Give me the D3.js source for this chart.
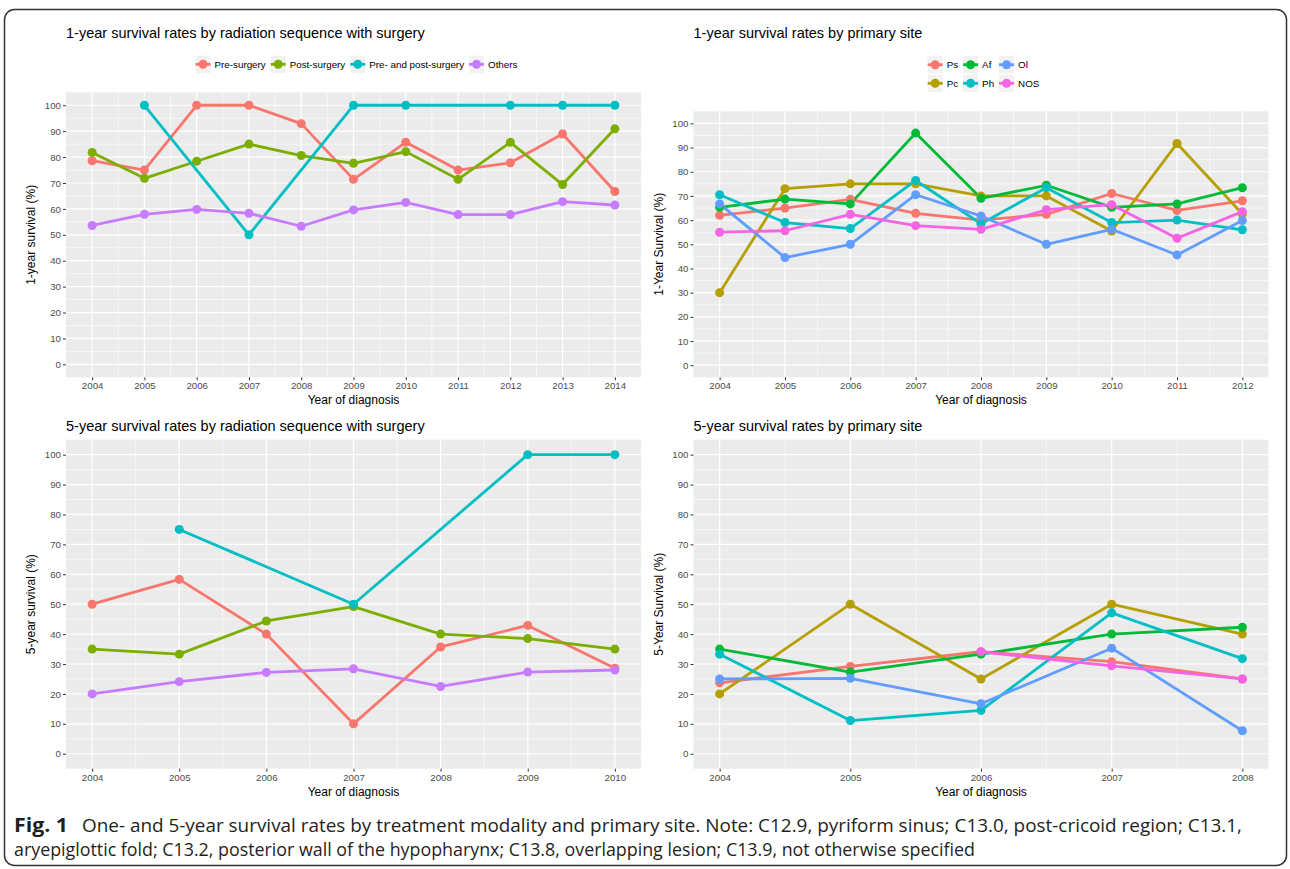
<!DOCTYPE html>
<html>
<head>
<meta charset="utf-8">
<script src="https://cdn.jsdelivr.net/npm/d3@7/dist/d3.min.js"></script>
<style>
  body { margin: 0; background: #fff; }
  text { font-family: "Liberation Sans", Arial, Helvetica, sans-serif; }
</style>
</head>
<body>
<div id="fig"></div>
<script>
// ---- data ----
// 1-year, radiation sequence with surgery
var yearsSeq1 = [2004, 2005, 2006, 2007, 2008, 2009, 2010, 2011, 2012, 2013, 2014];
var preSurg1  = [78.6, 75, 100, 100, 92.9, 71.4, 85.7, 75, 77.8, 88.9, 66.7];
var postSurg1 = [81.8, 71.8, 78.4, 85, 80.6, 77.6, 82.1, 71.4, 85.7, 69.4, 90.9];
var prePost1  = [null, 100, null, 50, null, 100, 100, null, 100, 100, 100];
var others1   = [53.6, 57.9, 59.8, 58.3, 53.3, 59.6, 62.5, 57.8, 57.8, 62.8, 61.5];

// 5-year, radiation sequence with surgery
var yearsSeq5 = [2004, 2005, 2006, 2007, 2008, 2009, 2010];
var preSurg5  = [50, 58.3, 40, 10, 35.7, 42.9, 28.6];
var postSurg5 = [35, 33.3, 44.4, 49.2, 40, 38.5, 35];
var prePost5  = [null, 75, null, 50, null, 100, 100];
var others5   = [20, 24.1, 27.2, 28.4, 22.5, 27.3, 28];

// 1-year, primary site
var yearsSite1 = [2004, 2005, 2006, 2007, 2008, 2009, 2010, 2011, 2012];
var ps1  = [62, 65, 68.6, 62.8, 60, 62.4, 71, 64, 68];
var pc1  = [30, 73, 75, 75, 70, 70, 55.5, 91.7, 62.5];
var af1  = [65.3, 68.7, 66.7, 96, 69, 74.4, 65.3, 66.7, 73.4];
var ph1  = [70.5, 59, 56.5, 76.4, 58.5, 73.4, 59, 60, 56];
var ol1  = [66.7, 44.5, 50, 70.5, 61.7, 50, 56.2, 45.6, 59.8];
var nos1 = [55, 55.6, 62.4, 57.7, 56.2, 64.3, 66.4, 52.5, 63.5];

// 5-year, primary site
var yearsSite5 = [2004, 2005, 2006, 2007, 2008];
var ps5  = [23.7, 29.2, 34.1, 30.8, 25];
var pc5  = [20, 50, 25, 50, 40];
var af5  = [35, 27.3, 33.3, 40, 42.3];
var ph5  = [33.3, 11.1, 14.5, 47.1, 31.8];
var ol5  = [25, 25.2, 16.7, 35.3, 7.7];
var nos5 = [null, null, 34.1, 29.4, 25];

var seqNames  = ["Pre-surgery", "Post-surgery", "Pre- and post-surgery", "Others"];
var seqColors = ["#F8766D", "#7CAE00", "#00BFC4", "#C77CFF"];
var siteNames  = ["Ps", "Pc", "Af", "Ph", "Ol", "NOS"];
var siteColors = ["#F8766D", "#B79F00", "#00BA38", "#00BFC4", "#619CFF", "#F564E3"];
var yTicks = d3.range(0, 101, 10);

var captionBold = "Fig. 1";
var captionLine1 = "One- and 5-year survival rates by treatment modality and primary site. Note: C12.9, pyriform sinus; C13.0, post-cricoid region; C13.1,";
var captionLine2 = "aryepiglottic fold; C13.2, posterior wall of the hypopharynx; C13.8, overlapping lesion; C13.9, not otherwise specified";

// ---- svg ----
var W = 1290, H = 869;
var svg = d3.select("#fig").append("svg")
    .attr("width", W)
    .attr("height", H);

svg.append("rect")
    .attr("width", W).attr("height", H)
    .attr("fill", "#fff");

// outer frame
svg.append("rect")
    .attr("x", 4.5).attr("y", 9.5)
    .attr("width", 1282).attr("height", 856)
    .attr("rx", 10).attr("ry", 10)
    .attr("fill", "none")
    .attr("stroke", "#333")
    .attr("stroke-width", 1.5);

var LINE_W = 2.8, PT_R = 4.5;

function drawPanel(p) {
  var g = svg.append("g");
  var span = p.years[p.years.length - 1] - p.years[0];
  var xScale = d3.scaleLinear()
      .domain([p.years[0] - span * 0.05, p.years[p.years.length - 1] + span * 0.05])
      .range([p.left, p.right]);
  var yScale = d3.scaleLinear()
      .domain([-5, 105])
      .range([p.bottom, p.top]);

  g.append("rect")
      .attr("x", p.left).attr("y", p.top)
      .attr("width", p.right - p.left).attr("height", p.bottom - p.top)
      .attr("fill", "#EBEBEB");

  // minor grid
  var minorX = p.years.slice(0, -1).map(function(d) { return d + 0.5; });
  var minorY = d3.range(5, 100, 10);
  g.selectAll(".mx").data(minorX).enter().append("line")
      .attr("x1", function(d) { return xScale(d); }).attr("x2", function(d) { return xScale(d); })
      .attr("y1", p.top).attr("y2", p.bottom)
      .attr("stroke", "#fff").attr("stroke-width", 0.6);
  g.selectAll(".my").data(minorY).enter().append("line")
      .attr("y1", function(d) { return yScale(d); }).attr("y2", function(d) { return yScale(d); })
      .attr("x1", p.left).attr("x2", p.right)
      .attr("stroke", "#fff").attr("stroke-width", 0.6);
  // major grid
  g.selectAll(".gx").data(p.years).enter().append("line")
      .attr("x1", function(d) { return xScale(d); }).attr("x2", function(d) { return xScale(d); })
      .attr("y1", p.top).attr("y2", p.bottom)
      .attr("stroke", "#fff").attr("stroke-width", 1.2);
  g.selectAll(".gy").data(yTicks).enter().append("line")
      .attr("y1", function(d) { return yScale(d); }).attr("y2", function(d) { return yScale(d); })
      .attr("x1", p.left).attr("x2", p.right)
      .attr("stroke", "#fff").attr("stroke-width", 1.2);

  // axes
  var xAxis = g.append("g")
      .attr("transform", "translate(0," + p.bottom + ")")
      .call(d3.axisBottom(xScale).tickValues(p.years).tickFormat(d3.format("d")).tickSize(3).tickPadding(2));
  var yAxis = g.append("g")
      .attr("transform", "translate(" + p.left + ",0)")
      .call(d3.axisLeft(yScale).tickValues(yTicks).tickSize(3).tickPadding(2));
  [xAxis, yAxis].forEach(function(a) {
    a.select(".domain").remove();
    a.selectAll(".tick line").attr("stroke", "#333");
    a.selectAll(".tick text")
        .attr("fill", "#4D4D4D")
        .style("font-size", "9.7px")
        .style("font-family", "'Liberation Sans', Arial, sans-serif");
  });

  // series
  var line = d3.line()
      .x(function(d) { return xScale(d.year); })
      .y(function(d) { return yScale(d.v); });
  var seriesData = p.series.map(function(s, k) {
    return {
      color: p.colors[k],
      pts: p.years.map(function(y, i) { return {year: y, v: s[i]}; })
                  .filter(function(d) { return d.v != null; })
    };
  });
  seriesData.forEach(function(s) {
    g.append("path")
        .datum(s.pts)
        .attr("d", line)
        .attr("fill", "none")
        .attr("stroke", s.color)
        .attr("stroke-width", LINE_W)
        .attr("stroke-linejoin", "round");
  });
  seriesData.forEach(function(s) {
    g.selectAll(null).data(s.pts).enter().append("circle")
        .attr("cx", function(d) { return xScale(d.year); })
        .attr("cy", function(d) { return yScale(d.v); })
        .attr("r", PT_R)
        .attr("fill", s.color);
  });

  // titles
  g.append("text")
      .attr("x", p.left).attr("y", p.titleY)
      .style("font-size", "14.5px")
      .attr("fill", "#000")
      .text(p.title);
  g.append("text")
      .attr("x", (p.left + p.right) / 2).attr("y", p.bottom + 27)
      .attr("text-anchor", "middle")
      .style("font-size", "12px")
      .attr("fill", "#000")
      .text("Year of diagnosis");
  g.append("text")
      .attr("transform", "translate(" + (p.left - 35) + "," + ((p.top + p.bottom) / 2) + ") rotate(-90)")
      .attr("text-anchor", "middle")
      .attr("dy", "0.35em")
      .style("font-size", "12px")
      .attr("fill", "#000")
      .text(p.ylab);
}

function drawLegend(names, colors, nrow, cx, cy) {
  var keyW = 15, keyH = 17.3, txtGap = 4, colGap = 5, rowH = 18.6;
  var g = svg.append("g");
  var ncol = Math.ceil(names.length / nrow);
  // measure texts
  var widths = names.map(function(n) {
    var t = g.append("text").style("font-size", "9.8px").text(n);
    var w = t.node().getComputedTextLength();
    t.remove();
    return w;
  });
  var colW = d3.range(ncol).map(function(c) {
    return d3.max(d3.range(nrow).map(function(r) {
      var i = c * nrow + r;
      return i < names.length ? widths[i] : 0;
    }));
  });
  var total = d3.sum(colW) + ncol * (keyW + txtGap) + (ncol - 1) * colGap;
  var x0 = cx - total / 2;
  var y0 = cy - (nrow * rowH) / 2;
  var colX = [];
  var acc = x0;
  colW.forEach(function(w) { colX.push(acc); acc += keyW + txtGap + w + colGap; });

  names.forEach(function(n, i) {
    var c = Math.floor(i / nrow), r = i % nrow;
    var kx = colX[c], ky = y0 + r * rowH + (rowH - keyH) / 2;
    var kg = g.append("g");
    kg.append("rect")
        .attr("x", kx).attr("y", ky)
        .attr("width", keyW).attr("height", keyH)
        .attr("fill", "#F2F2F2");
    kg.append("line")
        .attr("x1", kx).attr("x2", kx + keyW)
        .attr("y1", ky + keyH / 2).attr("y2", ky + keyH / 2)
        .attr("stroke", colors[i]).attr("stroke-width", LINE_W);
    kg.append("circle")
        .attr("cx", kx + keyW / 2).attr("cy", ky + keyH / 2)
        .attr("r", PT_R).attr("fill", colors[i]);
    kg.append("text")
        .attr("x", kx + keyW + txtGap).attr("y", ky + keyH / 2)
        .attr("dy", "0.35em")
        .style("font-size", "9.8px")
        .attr("fill", "#000")
        .text(n);
  });
}

drawPanel({
  years: yearsSeq1, series: [preSurg1, postSurg1, prePost1, others1], colors: seqColors,
  left: 66, right: 641, top: 92.3, bottom: 377.3, titleY: 38,
  title: "1-year survival rates by radiation sequence with surgery", ylab: "1-year survival (%)"
});
drawPanel({
  years: yearsSite1, series: [ps1, pc1, af1, ph1, ol1, nos1], colors: siteColors,
  left: 693.5, right: 1268.5, top: 111.3, bottom: 377.3, titleY: 38,
  title: "1-year survival rates by primary site", ylab: "1-Year Survival (%)"
});
drawPanel({
  years: yearsSeq5, series: [preSurg5, postSurg5, prePost5, others5], colors: seqColors,
  left: 66, right: 641, top: 439.7, bottom: 768.7, titleY: 431,
  title: "5-year survival rates by radiation sequence with surgery", ylab: "5-year survival (%)"
});
drawPanel({
  years: yearsSite5, series: [ps5, pc5, af5, ph5, ol5, nos5], colors: siteColors,
  left: 693.5, right: 1268.5, top: 439.7, bottom: 768.7, titleY: 431,
  title: "5-year survival rates by primary site", ylab: "5-Year Survival (%)"
});

drawLegend(seqNames, seqColors, 1, 356.5, 64.3);
drawLegend(siteNames, siteColors, 2, 983.5, 74);

// caption
var cap = svg.append("g").attr("fill", "#231F20");
cap.append("text")
    .attr("x", 14).attr("y", 832)
    .style("font-family", "'Open Sans', 'Noto Sans', sans-serif")
    .style("font-weight", "bold")
    .style("font-size", "19px")
    .attr("textLength", 54)
    .attr("lengthAdjust", "spacingAndGlyphs")
    .text(captionBold);
cap.append("text")
    .attr("x", 82).attr("y", 832)
    .style("font-family", "'Open Sans', 'Noto Sans', sans-serif")
    .style("font-size", "19px")
    .attr("textLength", 1160)
    .attr("lengthAdjust", "spacingAndGlyphs")
    .text(captionLine1);
cap.append("text")
    .attr("x", 14).attr("y", 856)
    .style("font-family", "'Open Sans', 'Noto Sans', sans-serif")
    .style("font-size", "19px")
    .attr("textLength", 961)
    .attr("lengthAdjust", "spacingAndGlyphs")
    .text(captionLine2);
</script>
</body>
</html>
